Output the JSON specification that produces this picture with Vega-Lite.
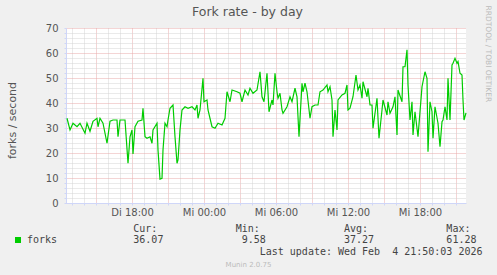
{
  "$schema": "https://vega.github.io/schema/vega-lite/v6.json",
  "autosize": {"type": "none"},
  "width": 400,
  "height": 175,
  "padding": {"left": 66, "top": 28, "right": 31, "bottom": 72},
  "background": "#F0F0F0",
  "title": {
    "text": "Fork rate - by day",
    "font": "DejaVu Sans",
    "fontSize": 12.5,
    "fontWeight": "normal",
    "color": "#555555",
    "anchor": "middle",
    "frame": "group",
    "dx": -18.5,
    "offset": -13.6
  },
  "config": {
    "view": {"fill": "#FFFFFF", "stroke": null}
  },
  "data": {
    "values": [
      {"t": "2026-02-03T12:35:00Z", "forks": 33.9},
      {"t": "2026-02-03T12:50:00Z", "forks": 29.2},
      {"t": "2026-02-03T13:05:00Z", "forks": 31.9},
      {"t": "2026-02-03T13:25:00Z", "forks": 30.5},
      {"t": "2026-02-03T13:40:00Z", "forks": 31.9},
      {"t": "2026-02-03T14:05:00Z", "forks": 27.9},
      {"t": "2026-02-03T14:15:00Z", "forks": 31.9},
      {"t": "2026-02-03T14:30:00Z", "forks": 28.7},
      {"t": "2026-02-03T14:45:00Z", "forks": 32.7},
      {"t": "2026-02-03T15:05:00Z", "forks": 33.9},
      {"t": "2026-02-03T15:10:00Z", "forks": 30.5},
      {"t": "2026-02-03T15:20:00Z", "forks": 33.9},
      {"t": "2026-02-03T15:35:00Z", "forks": 31.9},
      {"t": "2026-02-03T15:55:00Z", "forks": 23.9},
      {"t": "2026-02-03T16:10:00Z", "forks": 32.7},
      {"t": "2026-02-03T16:25:00Z", "forks": 33.2},
      {"t": "2026-02-03T16:45:00Z", "forks": 33.2},
      {"t": "2026-02-03T16:50:00Z", "forks": 26.5},
      {"t": "2026-02-03T17:00:00Z", "forks": 33.2},
      {"t": "2026-02-03T17:25:00Z", "forks": 33.2},
      {"t": "2026-02-03T17:40:00Z", "forks": 15.9},
      {"t": "2026-02-03T17:50:00Z", "forks": 26.5},
      {"t": "2026-02-03T18:00:00Z", "forks": 29.2},
      {"t": "2026-02-03T18:05:00Z", "forks": 19.6},
      {"t": "2026-02-03T18:15:00Z", "forks": 30.5},
      {"t": "2026-02-03T18:30:00Z", "forks": 32.7},
      {"t": "2026-02-03T18:50:00Z", "forks": 33.2},
      {"t": "2026-02-03T18:55:00Z", "forks": 37.9},
      {"t": "2026-02-03T19:05:00Z", "forks": 26.5},
      {"t": "2026-02-03T19:15:00Z", "forks": 25.9},
      {"t": "2026-02-03T19:30:00Z", "forks": 26.5},
      {"t": "2026-02-03T19:40:00Z", "forks": 23.9},
      {"t": "2026-02-03T19:45:00Z", "forks": 29.2},
      {"t": "2026-02-03T20:05:00Z", "forks": 31.9},
      {"t": "2026-02-03T20:10:00Z", "forks": 21.2},
      {"t": "2026-02-03T20:20:00Z", "forks": 9.58},
      {"t": "2026-02-03T20:30:00Z", "forks": 9.9},
      {"t": "2026-02-03T20:35:00Z", "forks": 21.2},
      {"t": "2026-02-03T20:45:00Z", "forks": 31.9},
      {"t": "2026-02-03T20:55:00Z", "forks": 30.5},
      {"t": "2026-02-03T21:00:00Z", "forks": 33.2},
      {"t": "2026-02-03T21:10:00Z", "forks": 37.9},
      {"t": "2026-02-03T21:25:00Z", "forks": 39.2},
      {"t": "2026-02-03T21:35:00Z", "forks": 26.5},
      {"t": "2026-02-03T21:45:00Z", "forks": 15.9},
      {"t": "2026-02-03T21:50:00Z", "forks": 17.2},
      {"t": "2026-02-03T22:00:00Z", "forks": 29.2},
      {"t": "2026-02-03T22:10:00Z", "forks": 37.2},
      {"t": "2026-02-03T22:25:00Z", "forks": 38.5},
      {"t": "2026-02-03T22:40:00Z", "forks": 37.9},
      {"t": "2026-02-03T23:00:00Z", "forks": 38.5},
      {"t": "2026-02-03T23:15:00Z", "forks": 37.2},
      {"t": "2026-02-03T23:25:00Z", "forks": 39.2},
      {"t": "2026-02-03T23:30:00Z", "forks": 33.9},
      {"t": "2026-02-03T23:40:00Z", "forks": 37.2},
      {"t": "2026-02-03T23:55:00Z", "forks": 49.9},
      {"t": "2026-02-04T00:00:00Z", "forks": 40.5},
      {"t": "2026-02-04T00:15:00Z", "forks": 41.2},
      {"t": "2026-02-04T00:20:00Z", "forks": 37.2},
      {"t": "2026-02-04T00:40:00Z", "forks": 30.5},
      {"t": "2026-02-04T00:55:00Z", "forks": 29.9},
      {"t": "2026-02-04T01:10:00Z", "forks": 31.9},
      {"t": "2026-02-04T01:30:00Z", "forks": 31.2},
      {"t": "2026-02-04T01:45:00Z", "forks": 33.9},
      {"t": "2026-02-04T01:55:00Z", "forks": 44.5},
      {"t": "2026-02-04T02:10:00Z", "forks": 40.5},
      {"t": "2026-02-04T02:20:00Z", "forks": 45.2},
      {"t": "2026-02-04T02:45:00Z", "forks": 44.5},
      {"t": "2026-02-04T03:00:00Z", "forks": 43.9},
      {"t": "2026-02-04T03:10:00Z", "forks": 40.5},
      {"t": "2026-02-04T03:25:00Z", "forks": 45.2},
      {"t": "2026-02-04T03:40:00Z", "forks": 43.2},
      {"t": "2026-02-04T03:50:00Z", "forks": 45.9},
      {"t": "2026-02-04T04:05:00Z", "forks": 43.9},
      {"t": "2026-02-04T04:25:00Z", "forks": 45.2},
      {"t": "2026-02-04T04:40:00Z", "forks": 52.5},
      {"t": "2026-02-04T04:50:00Z", "forks": 42.5},
      {"t": "2026-02-04T05:00:00Z", "forks": 40.5},
      {"t": "2026-02-04T05:15:00Z", "forks": 51.9},
      {"t": "2026-02-04T05:25:00Z", "forks": 36.5},
      {"t": "2026-02-04T05:40:00Z", "forks": 41.2},
      {"t": "2026-02-04T05:45:00Z", "forks": 39.2},
      {"t": "2026-02-04T05:55:00Z", "forks": 51.9},
      {"t": "2026-02-04T06:05:00Z", "forks": 44.5},
      {"t": "2026-02-04T06:10:00Z", "forks": 41.9},
      {"t": "2026-02-04T06:20:00Z", "forks": 43.9},
      {"t": "2026-02-04T06:30:00Z", "forks": 37.2},
      {"t": "2026-02-04T06:35:00Z", "forks": 35.9},
      {"t": "2026-02-04T06:55:00Z", "forks": 38.5},
      {"t": "2026-02-04T07:10:00Z", "forks": 42.5},
      {"t": "2026-02-04T07:20:00Z", "forks": 40.5},
      {"t": "2026-02-04T07:35:00Z", "forks": 45.9},
      {"t": "2026-02-04T07:45:00Z", "forks": 42.5},
      {"t": "2026-02-04T07:55:00Z", "forks": 26.5},
      {"t": "2026-02-04T08:10:00Z", "forks": 47.9},
      {"t": "2026-02-04T08:15:00Z", "forks": 44.5},
      {"t": "2026-02-04T08:25:00Z", "forks": 47.9},
      {"t": "2026-02-04T08:35:00Z", "forks": 44.5},
      {"t": "2026-02-04T08:50:00Z", "forks": 33.9},
      {"t": "2026-02-04T09:00:00Z", "forks": 38.5},
      {"t": "2026-02-04T09:15:00Z", "forks": 39.2},
      {"t": "2026-02-04T09:30:00Z", "forks": 39.2},
      {"t": "2026-02-04T09:40:00Z", "forks": 44.5},
      {"t": "2026-02-04T09:55:00Z", "forks": 45.2},
      {"t": "2026-02-04T10:15:00Z", "forks": 47.2},
      {"t": "2026-02-04T10:20:00Z", "forks": 44.5},
      {"t": "2026-02-04T10:30:00Z", "forks": 46.5},
      {"t": "2026-02-04T10:40:00Z", "forks": 41.2},
      {"t": "2026-02-04T10:45:00Z", "forks": 26.5},
      {"t": "2026-02-04T10:55:00Z", "forks": 37.2},
      {"t": "2026-02-04T11:05:00Z", "forks": 29.2},
      {"t": "2026-02-04T11:10:00Z", "forks": 41.2},
      {"t": "2026-02-04T11:30:00Z", "forks": 43.2},
      {"t": "2026-02-04T11:45:00Z", "forks": 43.9},
      {"t": "2026-02-04T11:55:00Z", "forks": 47.2},
      {"t": "2026-02-04T12:00:00Z", "forks": 37.2},
      {"t": "2026-02-04T12:10:00Z", "forks": 37.9},
      {"t": "2026-02-04T12:25:00Z", "forks": 42.5},
      {"t": "2026-02-04T12:40:00Z", "forks": 51.2},
      {"t": "2026-02-04T12:50:00Z", "forks": 45.2},
      {"t": "2026-02-04T13:00:00Z", "forks": 47.2},
      {"t": "2026-02-04T13:10:00Z", "forks": 41.9},
      {"t": "2026-02-04T13:15:00Z", "forks": 48.5},
      {"t": "2026-02-04T13:35:00Z", "forks": 42.5},
      {"t": "2026-02-04T13:40:00Z", "forks": 45.9},
      {"t": "2026-02-04T13:50:00Z", "forks": 39.2},
      {"t": "2026-02-04T14:00:00Z", "forks": 39.2},
      {"t": "2026-02-04T14:05:00Z", "forks": 29.9},
      {"t": "2026-02-04T14:25:00Z", "forks": 41.9},
      {"t": "2026-02-04T14:35:00Z", "forks": 25.9},
      {"t": "2026-02-04T14:50:00Z", "forks": 37.2},
      {"t": "2026-02-04T14:55:00Z", "forks": 41.2},
      {"t": "2026-02-04T15:15:00Z", "forks": 35.2},
      {"t": "2026-02-04T15:20:00Z", "forks": 40.5},
      {"t": "2026-02-04T15:30:00Z", "forks": 35.9},
      {"t": "2026-02-04T15:45:00Z", "forks": 38.5},
      {"t": "2026-02-04T15:55:00Z", "forks": 42.5},
      {"t": "2026-02-04T16:05:00Z", "forks": 27.2},
      {"t": "2026-02-04T16:10:00Z", "forks": 45.2},
      {"t": "2026-02-04T16:30:00Z", "forks": 40.5},
      {"t": "2026-02-04T16:35:00Z", "forks": 54.5},
      {"t": "2026-02-04T16:45:00Z", "forks": 54.5},
      {"t": "2026-02-04T16:55:00Z", "forks": 61.28},
      {"t": "2026-02-04T17:00:00Z", "forks": 47.2},
      {"t": "2026-02-04T17:10:00Z", "forks": 33.2},
      {"t": "2026-02-04T17:20:00Z", "forks": 40.5},
      {"t": "2026-02-04T17:25:00Z", "forks": 27.2},
      {"t": "2026-02-04T17:35:00Z", "forks": 36.5},
      {"t": "2026-02-04T17:50:00Z", "forks": 26.5},
      {"t": "2026-02-04T18:10:00Z", "forks": 46.5},
      {"t": "2026-02-04T18:25:00Z", "forks": 52.5},
      {"t": "2026-02-04T18:35:00Z", "forks": 49.9},
      {"t": "2026-02-04T18:40:00Z", "forks": 20.5},
      {"t": "2026-02-04T18:50:00Z", "forks": 40.5},
      {"t": "2026-02-04T19:00:00Z", "forks": 36.5},
      {"t": "2026-02-04T19:05:00Z", "forks": 25.9},
      {"t": "2026-02-04T19:15:00Z", "forks": 38.5},
      {"t": "2026-02-04T19:30:00Z", "forks": 31.9},
      {"t": "2026-02-04T19:40:00Z", "forks": 22.5},
      {"t": "2026-02-04T19:50:00Z", "forks": 32.5},
      {"t": "2026-02-04T19:55:00Z", "forks": 33.2},
      {"t": "2026-02-04T20:05:00Z", "forks": 38.5},
      {"t": "2026-02-04T20:15:00Z", "forks": 33.2},
      {"t": "2026-02-04T20:20:00Z", "forks": 49.9},
      {"t": "2026-02-04T20:30:00Z", "forks": 33.2},
      {"t": "2026-02-04T20:40:00Z", "forks": 55.2},
      {"t": "2026-02-04T20:45:00Z", "forks": 55.9},
      {"t": "2026-02-04T20:55:00Z", "forks": 57.9},
      {"t": "2026-02-04T21:05:00Z", "forks": 55.9},
      {"t": "2026-02-04T21:10:00Z", "forks": 56.6},
      {"t": "2026-02-04T21:20:00Z", "forks": 51.9},
      {"t": "2026-02-04T21:30:00Z", "forks": 51.2},
      {"t": "2026-02-04T21:35:00Z", "forks": 41.2},
      {"t": "2026-02-04T21:40:00Z", "forks": 33.2},
      {"t": "2026-02-04T21:50:00Z", "forks": 36.07}
    ]
  },
  "layer": [
    {
      "mark": {"type": "line", "strokeWidth": 1.2},
      "encoding": {
        "x": {
          "field": "t",
          "type": "temporal",
          "scale": {
            "type": "utc",
            "domain": [
              {"year": 2026, "month": 2, "date": 3, "hours": 12, "minutes": 30, "utc": true},
              {"year": 2026, "month": 2, "date": 4, "hours": 21, "minutes": 50, "utc": true}
            ]
          },
          "axis": {
            "orient": "bottom",
            "values": [
              {"year": 2026, "month": 2, "date": 3, "hours": 13, "utc": true},
              {"year": 2026, "month": 2, "date": 3, "hours": 14, "utc": true},
              {"year": 2026, "month": 2, "date": 3, "hours": 15, "utc": true},
              {"year": 2026, "month": 2, "date": 3, "hours": 16, "utc": true},
              {"year": 2026, "month": 2, "date": 3, "hours": 17, "utc": true},
              {"year": 2026, "month": 2, "date": 3, "hours": 18, "utc": true},
              {"year": 2026, "month": 2, "date": 3, "hours": 19, "utc": true},
              {"year": 2026, "month": 2, "date": 3, "hours": 20, "utc": true},
              {"year": 2026, "month": 2, "date": 3, "hours": 21, "utc": true},
              {"year": 2026, "month": 2, "date": 3, "hours": 22, "utc": true},
              {"year": 2026, "month": 2, "date": 3, "hours": 23, "utc": true},
              {"year": 2026, "month": 2, "date": 4, "hours": 0, "utc": true},
              {"year": 2026, "month": 2, "date": 4, "hours": 1, "utc": true},
              {"year": 2026, "month": 2, "date": 4, "hours": 2, "utc": true},
              {"year": 2026, "month": 2, "date": 4, "hours": 3, "utc": true},
              {"year": 2026, "month": 2, "date": 4, "hours": 4, "utc": true},
              {"year": 2026, "month": 2, "date": 4, "hours": 5, "utc": true},
              {"year": 2026, "month": 2, "date": 4, "hours": 6, "utc": true},
              {"year": 2026, "month": 2, "date": 4, "hours": 7, "utc": true},
              {"year": 2026, "month": 2, "date": 4, "hours": 8, "utc": true},
              {"year": 2026, "month": 2, "date": 4, "hours": 9, "utc": true},
              {"year": 2026, "month": 2, "date": 4, "hours": 10, "utc": true},
              {"year": 2026, "month": 2, "date": 4, "hours": 11, "utc": true},
              {"year": 2026, "month": 2, "date": 4, "hours": 12, "utc": true},
              {"year": 2026, "month": 2, "date": 4, "hours": 13, "utc": true},
              {"year": 2026, "month": 2, "date": 4, "hours": 14, "utc": true},
              {"year": 2026, "month": 2, "date": 4, "hours": 15, "utc": true},
              {"year": 2026, "month": 2, "date": 4, "hours": 16, "utc": true},
              {"year": 2026, "month": 2, "date": 4, "hours": 17, "utc": true},
              {"year": 2026, "month": 2, "date": 4, "hours": 18, "utc": true},
              {"year": 2026, "month": 2, "date": 4, "hours": 19, "utc": true},
              {"year": 2026, "month": 2, "date": 4, "hours": 20, "utc": true},
              {"year": 2026, "month": 2, "date": 4, "hours": 21, "utc": true}
            ],
            "labelExpr": "utchours(datum.value) % 6 === 0 ? (utcday(datum.value) === 2 ? 'Di ' : 'Mi ') + utcFormat(datum.value, '%H:%M') : ''",
            "labelOverlap": false,
            "labelFlush": false,
            "labelFont": "DejaVu Sans",
            "labelFontSize": 10,
            "labelColor": "#555555",
            "labelPadding": 2,
            "grid": true,
            "gridColor": {"condition": {"test": "utchours(datum.value) % 3 === 0", "value": "#E8ABAB"}, "value": "#D4D4D4"},
            "gridDash": [1, 1],
            "domainColor": "#CFD6F8",
            "tickSize": 2,
            "tickColor": "#CFD6F8",
            "title": [
              "Cur:\u00a0\u00a0\u00a0\u00a0\u00a0\u00a0\u00a0\u00a0\u00a0\u00a0\u00a0\u00a0\u00a0Min:\u00a0\u00a0\u00a0\u00a0\u00a0\u00a0\u00a0\u00a0\u00a0\u00a0\u00a0\u00a0\u00a0\u00a0Avg:\u00a0\u00a0\u00a0\u00a0\u00a0\u00a0\u00a0\u00a0\u00a0\u00a0\u00a0\u00a0\u00a0Max:",
              "36.07\u00a0\u00a0\u00a0\u00a0\u00a0\u00a0\u00a0\u00a0\u00a0\u00a0\u00a0\u00a0\u00a09.58\u00a0\u00a0\u00a0\u00a0\u00a0\u00a0\u00a0\u00a0\u00a0\u00a0\u00a0\u00a0\u00a037.27\u00a0\u00a0\u00a0\u00a0\u00a0\u00a0\u00a0\u00a0\u00a0\u00a0\u00a0\u00a061.28",
              "\u200b\u00a0\u00a0\u00a0\u00a0\u00a0\u00a0\u00a0\u00a0\u00a0\u00a0\u00a0\u00a0\u00a0\u00a0\u00a0\u00a0\u00a0\u00a0\u00a0\u00a0\u00a0Last update: Wed Feb \u00a04 21:50:03 2026"
            ],
            "titleFont": "DejaVu Sans Mono",
            "titleFontSize": 10,
            "titleFontWeight": "normal",
            "titleColor": "#444444",
            "titleAlign": "left",
            "titleAnchor": "start",
            "titleBaseline": "alphabetic",
            "titleX": 66.8,
            "titleY": 28,
            "titleLineHeight": 11.5
          }
        },
        "y": {
          "field": "forks",
          "type": "quantitative",
          "scale": {"domain": [0, 70], "nice": false},
          "axis": {
            "values": [0, 2, 4, 6, 8, 10, 12, 14, 16, 18, 20, 22, 24, 26, 28, 30, 32, 34, 36, 38, 40, 42, 44, 46, 48, 50, 52, 54, 56, 58, 60, 62, 64, 66, 68, 70],
            "labelExpr": "datum.value % 10 === 0 ? datum.label : ''",
            "labelOverlap": false,
            "labelFlush": false,
            "labelFont": "DejaVu Sans",
            "labelFontSize": 10,
            "labelColor": "#555555",
            "labelPadding": 6,
            "grid": true,
            "gridColor": {"condition": {"test": "datum.value % 10 === 0", "value": "#E8ABAB"}, "value": "#D4D4D4"},
            "gridDash": [1, 1],
            "domainColor": "#CFD6F8",
            "tickSize": 2,
            "tickColor": "#CFD6F8",
            "title": "forks / second",
            "titleFont": "DejaVu Sans",
            "titleFontSize": 11,
            "titleFontWeight": "normal",
            "titleColor": "#555555",
            "titleAngle": 270,
            "titleAlign": "center",
            "titleBaseline": "middle",
            "titleX": -54,
            "titleY": 92
          }
        },
        "color": {
          "datum": "forks",
          "type": "nominal",
          "scale": {"range": ["#00CC00"]},
          "legend": {
            "orient": "none",
            "legendX": -53,
            "legendY": 207,
            "title": null,
            "padding": 0,
            "symbolType": "square",
            "symbolSize": 36,
            "symbolStrokeWidth": 0,
            "symbolFillColor": "#00CC00",
            "labelFont": "DejaVu Sans Mono",
            "labelFontSize": 10,
            "labelColor": "#444444",
            "labelOffset": 4
          }
        }
      }
    },
    {
      "mark": {"type": "line", "opacity": 0},
      "encoding": {
        "x": {
          "field": "t",
          "type": "temporal",
          "axis": {
            "orient": "top",
            "domain": false,
            "ticks": false,
            "labels": false,
            "grid": false,
            "title": "Munin 2.0.75",
            "titleFont": "DejaVu Sans",
            "titleFontSize": 7,
            "titleFontWeight": "normal",
            "titleColor": "#BBBBBB",
            "titleAngle": 0,
            "titleAlign": "center",
            "titleBaseline": "alphabetic",
            "titleX": 182,
            "titleY": 238.7
          }
        },
        "y": {
          "field": "forks",
          "type": "quantitative",
          "axis": {
            "orient": "right",
            "domain": false,
            "ticks": false,
            "labels": false,
            "grid": false,
            "title": "RRDTOOL / TOBI OETIKER",
            "titleFont": "DejaVu Sans",
            "titleFontSize": 7.5,
            "titleFontWeight": "normal",
            "titleColor": "#BBBBBB",
            "titleAngle": 90,
            "titleAlign": "center",
            "titleBaseline": "middle",
            "titleX": 21.7,
            "titleY": 25.3
          }
        }
      }
    }
  ],
  "resolve": {"axis": {"x": "independent", "y": "independent"}}
}
